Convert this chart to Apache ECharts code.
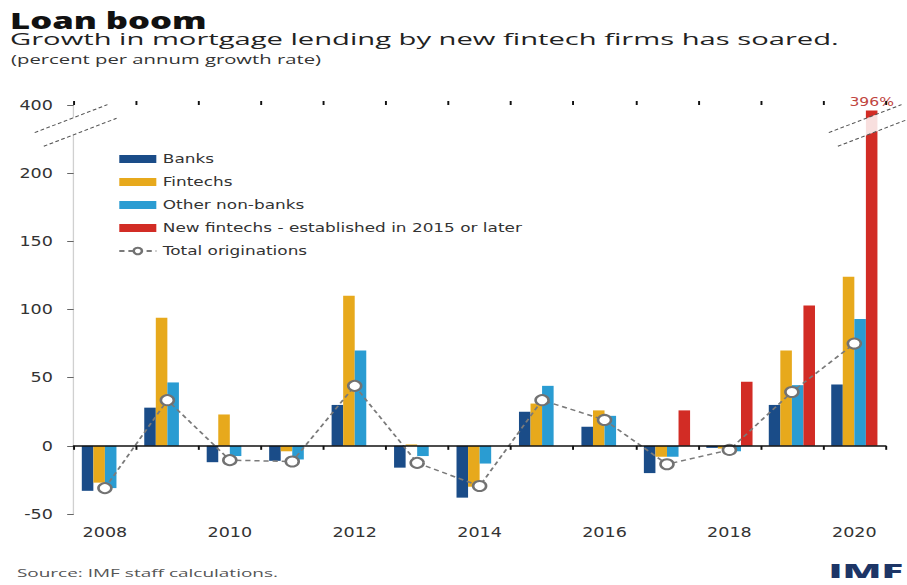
<!DOCTYPE html>
<html>
<head>
<meta charset="utf-8">
<script src="https://cdn.jsdelivr.net/npm/echarts@6/dist/echarts.min.js"></script>
<style>
  html, body { margin: 0; padding: 0; background: #fff; overflow: hidden; }
  #wrap { width: 907px; height: 585px; overflow: hidden; }
  /* drawn on a narrower canvas, then widened to the page */
  #chart { width: 698px; height: 585px; transform: scaleX(1.29943); transform-origin: 0 0; }
</style>
</head>
<body>
<div id="wrap"><div id="chart"></div></div>
<script>
// Annual growth of mortgage originations, percent
const years = ['2008', '2009', '2010', '2011', '2012', '2013', '2014', '2015', '2016', '2017', '2018', '2019', '2020'];
const banks = [-33, 28, -12, -11, 30, -16, -38, 25, 14, -20, -1.5, 30, 45];
const fintechs = [-27, 94, 23, -4, 110, 1, -30, 31, 26, -8, -2, 70, 124];
const otherNonBanks = [-31, 46.5, -7.5, -10, 70, -7.5, -13, 44, 22, -8, -4, 44.5, 93];
const newFintechs = [null, null, null, null, null, null, null, null, null, 26, 47, 103, 396];
const totalOriginations = [-31, 33.5, -10.5, -11.5, 44, -12.5, -29.5, 33.5, 19, -13.5, -3, 39.5, 75];
const yTickLabels = [-50, 0, 50, 100, 150, 200, 400];

// the value axis is broken between these two values
const BREAK_START = 230;
const BREAK_END = 390;

const TITLE_FONT = '"Open Sans", "Noto Sans", sans-serif';
const FONT = '"DejaVu Sans", "Open Sans", sans-serif';
const C_BANKS = '#1a4c88';
const C_FINTECH = '#e7a91c';
const C_OTHER = '#2a9cd2';
const C_NEW = '#d22c25';

const chart = echarts.init(document.getElementById('chart'), null, { renderer: 'svg' });

function barSeries(name, data, color) {
  return {
    name: name,
    type: 'bar',
    data: data,
    barGap: '0%',
    barCategoryGap: '26%',
    itemStyle: { color: color },
    z: 2
  };
}

const option = {
  animation: false,
  backgroundColor: '#fff',
  textStyle: { fontFamily: FONT },
  grid: { left: 56.7, right: 16.5, top: 105, bottom: 71, containLabel: false, outerBoundsMode: 'none' },
  legend: {
    orient: 'vertical',
    left: 85.8,
    top: 147,
    itemWidth: 28.5,
    itemHeight: 8,
    itemGap: 9,
    textStyle: { fontFamily: FONT, fontSize: 13, color: '#333', lineHeight: 14 },
    data: [
      { name: 'Banks', icon: 'rect' },
      { name: 'Fintechs', icon: 'rect' },
      { name: 'Other non-banks', icon: 'rect' },
      { name: 'New fintechs - established in 2015 or later', icon: 'rect' },
      { name: 'Total originations' }
    ]
  },
  xAxis: [
    {
      type: 'category',
      data: years,
      position: 'bottom',
      axisLine: { onZero: true, lineStyle: { color: '#111', width: 1.5 } },
      axisTick: { show: true, interval: 0, length: 4, lineStyle: { color: '#111', width: 1.5 } },
      axisLabel: { interval: 1, margin: 11, fontFamily: FONT, fontSize: 13.5, color: '#333' },
      splitLine: { show: false },
      z: 5
    },
    {
      type: 'category',
      data: years,
      position: 'top',
      axisLine: { show: false, onZero: true },
      axisTick: { show: true, interval: 0, length: 4, lineStyle: { color: '#111', width: 1.5 } },
      axisLabel: { show: false },
      splitLine: { show: false },
      z: 5
    }
  ],
  yAxis: {
    type: 'value',
    min: -50,
    max: 400,
    interval: 50,
    breaks: [{ start: BREAK_START, end: BREAK_END, gap: 10 }],
    breakArea: { show: false },
    axisLine: { show: true, lineStyle: { color: '#d0d0d0', width: 1 } },
    axisTick: { show: true, length: 5, customValues: yTickLabels, lineStyle: { color: '#666', width: 1 } },
    splitLine: { show: false },
    axisLabel: {
      fontFamily: FONT,
      fontSize: 13.5,
      color: '#333',
      margin: 16,
      customValues: yTickLabels,
      formatter: function (v) { return String(v); }
    }
  },
  series: [
    barSeries('Banks', banks, C_BANKS),
    barSeries('Fintechs', fintechs, C_FINTECH),
    barSeries('Other non-banks', otherNonBanks, C_OTHER),
    Object.assign(barSeries('New fintechs - established in 2015 or later', newFintechs, C_NEW), {
      label: {
        show: true,
        position: 'top',
        distance: 3,
        fontFamily: FONT,
        fontSize: 12,
        color: '#c0453e',
        formatter: function (p) { return p.dataIndex === years.length - 1 ? p.value + '%' : ''; }
      }
    }),
    {
      name: 'Total originations',
      type: 'line',
      data: totalOriginations,
      symbol: 'circle',
      symbolSize: 10,
      lineStyle: { color: '#7a7a7a', width: 1.5, type: [4, 3] },
      itemStyle: { color: '#fff', borderColor: '#727272', borderWidth: 2 },
      z: 4
    }
  ]
};

chart.setOption(option);

// Diagonal dashed marks where the value axis is broken
function breakMark(cx, yHi, yLo, shiftHi, shiftLo) {
  const half = 28, slope = 0.5;
  const a1 = [cx + shiftHi - half, yHi + half * slope];
  const a2 = [cx + shiftHi + half, yHi - half * slope];
  const b1 = [cx + shiftLo - half, yLo + half * slope];
  const b2 = [cx + shiftLo + half, yLo - half * slope];
  const dash = { stroke: '#555', lineWidth: 1, lineDash: [3, 2] };
  return [
    { type: 'polygon', shape: { points: [a1, a2, b2, b1] }, style: { fill: 'rgba(255,255,255,0.85)' }, z: 10 },
    { type: 'line', shape: { x1: a1[0], y1: a1[1], x2: a2[0], y2: a2[1] }, style: dash, z: 11 },
    { type: 'line', shape: { x1: b1[0], y1: b1[1], x2: b2[0], y2: b2[1] }, style: dash, z: 11 }
  ];
}

function headerText(text, x, y, font, fill, scaleX, align) {
  return {
    type: 'text', x: x, y: y, scaleX: scaleX, z: 20,
    style: { text: text, font: font, fill: fill, align: align || 'left', verticalAlign: 'middle' }
  };
}

const yHi = chart.convertToPixel({ yAxisIndex: 0 }, BREAK_END);
const yLo = chart.convertToPixel({ yAxisIndex: 0 }, BREAK_START);
const x0 = chart.convertToPixel({ xAxisIndex: 0 }, years[0]);
const x1 = chart.convertToPixel({ xAxisIndex: 0 }, years[1]);
const axisX = x0 - (x1 - x0) / 2;
const lastBar = chart.getModel().getSeriesByIndex(3).getData().getItemLayout(years.length - 1);
const barCx = lastBar.x + lastBar.width / 2;

chart.setOption({
  graphic: [
    ...breakMark(axisX, yHi, yLo, -2, 5),
    ...breakMark(barCx, yHi, yLo, -5, 2),
    headerText('Loan boom', 7.7, 20.5, '800 22px ' + TITLE_FONT, '#111', 1.21),
    headerText('Growth in mortgage lending by new fintech firms has soared.', 7.7, 38.5, '17px ' + TITLE_FONT, '#222', 1.32),
    headerText('(percent per annum growth rate)', 8.5, 59, '13px ' + TITLE_FONT, '#333', 1.2),
    headerText('Source: IMF staff calculations.', 13, 573, '11.5px ' + TITLE_FONT, '#555', 1.27),
    headerText('IMF', 695, 570, '800 20px ' + TITLE_FONT, '#1d3566', 1.55, 'right')
  ]
});
</script>
</body>
</html>
